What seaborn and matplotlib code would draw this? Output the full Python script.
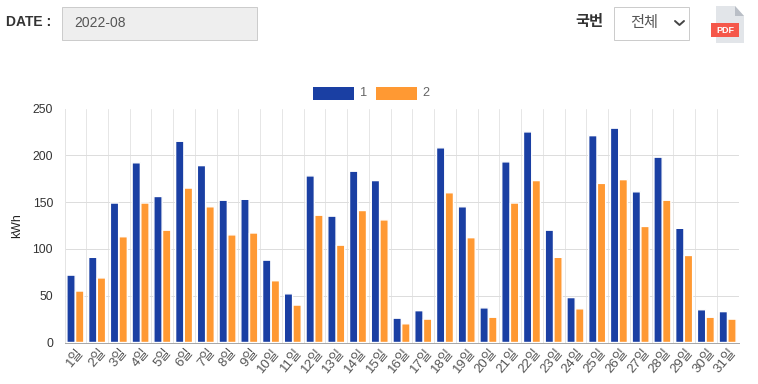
import matplotlib
matplotlib.use("Agg")
import matplotlib.pyplot as plt
from matplotlib.patches import Rectangle, Polygon
from matplotlib.lines import Line2D
from matplotlib.transforms import ScaledTranslation
import pandas as pd
import seaborn as sns

days = [f"{i}일" for i in range(1, 32)]
series_names = ["1", "2"]
values_1 = [72, 91, 149, 192, 156, 215, 189, 152, 153, 88, 52, 178, 135, 183, 173, 26,
            34, 208, 145, 37, 193, 225, 120, 48, 221, 229, 161, 198, 122, 35, 33]
values_2 = [55, 69, 113, 149, 120, 165, 145, 115, 117, 66, 40, 136, 104, 141, 131, 20,
            25, 160, 112, 27, 149, 173, 91, 36, 170, 174, 124, 152, 93, 27, 25]
y_ticks = [0, 50, 100, 150, 200, 250]
colors = ["#1A3FA3", "#FF9933"]

W, H = 758, 384
sns.set_theme(style="white")
plt.rcParams["font.family"] = ["Liberation Sans", "Noto Sans CJK KR", "DejaVu Sans"]

fig = plt.figure(figsize=(W / 100, H / 100), dpi=100, facecolor="white")
ax = fig.add_axes([64.5 / W, 1 - 342.5 / H, (738.5 - 64.5) / W, (342.5 - 108.5) / H])

df = pd.DataFrame({
    "day": days * 2,
    "kWh": values_1 + values_2,
    "series": [series_names[0]] * len(days) + [series_names[1]] * len(days),
})
sns.barplot(data=df, x="day", y="kWh", hue="series", palette=colors, saturation=1,
            width=0.8, gap=0.05, legend=False, ax=ax, zorder=3)
for bar in ax.patches:
    bar.set_snap(False)

ax.set_xlim(-0.5, 30.5)
ax.set_ylim(0, 250)
ax.set_yticks(y_ticks)
ax.tick_params(axis="y", labelsize=8.8, labelcolor="#333333", length=7.5, width=0.72,
               color="#DDDDDD", pad=0.7)
ax.set_xticks(range(len(days)))
ax.set_xticklabels(days, rotation=50, ha="right", rotation_mode="anchor", fontsize=9.6,
                   color="#555555")
ax.tick_params(axis="x", which="major", length=0, pad=3)
offset = ScaledTranslation(2 / 100, 0, fig.dpi_scale_trans)
for lab in ax.get_xticklabels():
    lab.set_transform(lab.get_transform() + offset)
ax.set_xticks([i - 0.5 for i in range(len(days) + 1)], minor=True)
ax.tick_params(axis="x", which="minor", length=3.6, width=0.72, color="#E4E4E4")
ax.set_axisbelow(True)
ax.grid(True, axis="y", color="#DDDDDD", linewidth=0.72)
ax.grid(True, axis="x", which="minor", color="#E6E6E6", linewidth=0.72)
ax.grid(False, axis="x", which="major")
ax.get_ygridlines()[-1].set_visible(False)
ax.yaxis.get_major_ticks()[-1].tick1line.set_visible(False)
ax.set_xlabel("")
ax.set_ylabel("kWh", fontsize=8.8, color="#222222", labelpad=7)
for s in ["top", "right"]:
    ax.spines[s].set_visible(False)
ax.spines["left"].set_color("#E4E4E4")
ax.spines["left"].set_linewidth(0.72)
ax.spines["bottom"].set_color("#A8A8A8")
ax.spines["bottom"].set_linewidth(0.72)


def fx(x):
    return x / W


def fy(y):
    return 1 - y / H


def frect(x0, y0, x1, y1, **kw):
    fig.add_artist(Rectangle((fx(x0), fy(y1)), (x1 - x0) / W, (y1 - y0) / H,
                             transform=fig.transFigure, **kw))


# legend
frect(313, 87, 354, 100, facecolor=colors[0], edgecolor="none")
fig.text(fx(360), fy(93.5), series_names[0], fontsize=9.2, color="#666666", va="center")
frect(376, 87, 417, 100, facecolor=colors[1], edgecolor="none")
fig.text(fx(422), fy(93.5), series_names[1], fontsize=9.2, color="#666666", va="center")

# form controls
fig.text(fx(6), fy(22), "DATE :", fontsize=10, fontweight="bold", color="#333333", va="center")
frect(61.5, 6.5, 256.5, 39.5, facecolor="#EEEEEE", edgecolor="#CCCCCC", linewidth=0.72)
fig.text(fx(74), fy(23), "2022-08", fontsize=10, color="#555555", va="center")
fig.text(fx(575), fy(22), "국번", fontsize=11, fontweight="bold", color="#333333", va="center")
frect(613.5, 6.5, 688.5, 39.5, facecolor="white", edgecolor="#CCCCCC", linewidth=0.72)
fig.text(fx(630), fy(23), "전체", fontsize=11, color="#555555", va="center")
fig.add_artist(Line2D([fx(675), fx(679.5), fx(684)], [fy(21), fy(25), fy(21)],
                      transform=fig.transFigure, color="#444444", linewidth=1.4))

# pdf icon
fig.add_artist(Polygon([(fx(716), fy(6)), (fx(735), fy(6)), (fx(744), fy(16)),
                        (fx(744), fy(43)), (fx(716), fy(43))],
                       transform=fig.transFigure, facecolor="#E2E5E9", edgecolor="none"))
fig.add_artist(Polygon([(fx(735), fy(6)), (fx(744), fy(16)), (fx(735), fy(16))],
                       transform=fig.transFigure, facecolor="#B9BEC6", edgecolor="none"))
frect(711, 23, 739, 37, facecolor="#F5574A", edgecolor="none")
fig.text(fx(725), fy(30.3), "PDF", fontsize=6.5, fontweight="bold", color="white",
         ha="center", va="center")

fig.savefig("out.png", dpi=100)
